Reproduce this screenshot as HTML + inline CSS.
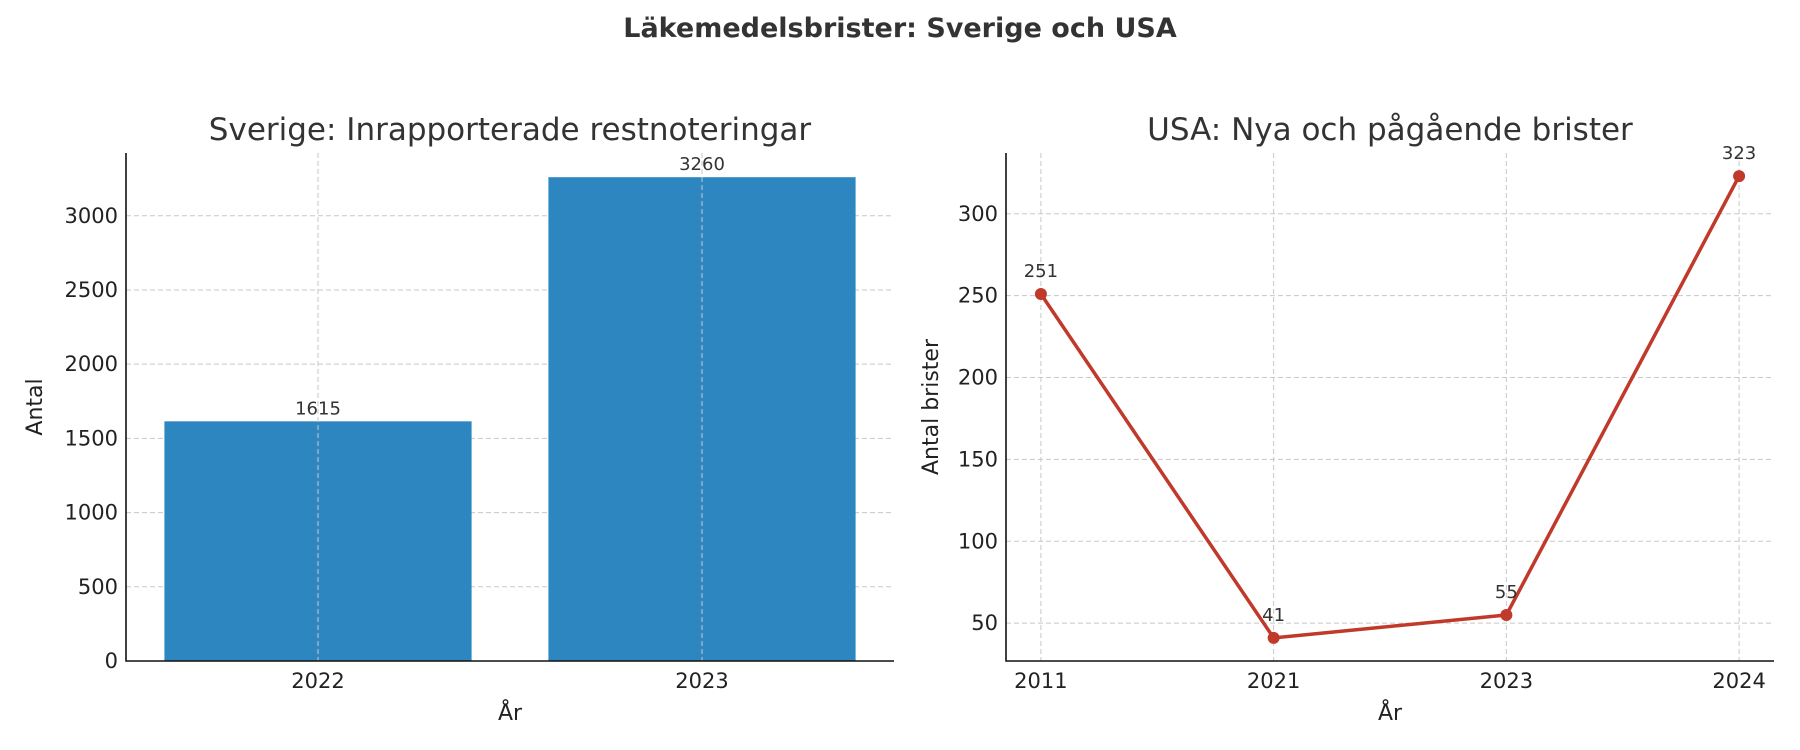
<!DOCTYPE html>
<html><head><meta charset="utf-8"><style>
body{margin:0;background:#fff;}
svg{display:block;font-family:"DejaVu Sans","Liberation Sans",sans-serif;}
</style></head><body>
<svg id="fig" width="1800" height="750" viewBox="0 0 1800 750">
<text x="900" y="37" text-anchor="middle" font-size="27" font-weight="bold" fill="#333">Läkemedelsbrister: Sverige och USA</text>
<g id="left"></g>
<g id="right"></g>
</svg>
<script>
const seCategories = ["2022", "2023"];
const seValues = [1615, 3260];
const seTicks = [0, 500, 1000, 1500, 2000, 2500, 3000];
const usCategories = ["2011", "2021", "2023", "2024"];
const usValues = [251, 41, 55, 323];
const usTicks = [50, 100, 150, 200, 250, 300];

const NS = "http://www.w3.org/2000/svg";
function mk(parent, tag, attrs, text){
  const e = document.createElementNS(NS, tag);
  for (const k in attrs) e.setAttribute(k, attrs[k]);
  if (text !== undefined) e.textContent = text;
  parent.appendChild(e);
  return e;
}

// Left chart
(function(){
  const g = document.getElementById('left');
  const L=126, R=894, T=153, B=661;
  const ymax = Math.max(...seValues)*1.05;
  const y = v => B - v/ymax*(B-T);
  const x = i => L + (i+0.5)/seCategories.length*(R-L);
  const unit = (R-L)/seCategories.length;
  seTicks.forEach(t=>{
    const gl = mk(g,'line',{x1:L,x2:R,y1:y(t),y2:y(t),stroke:'#c8c8c8','stroke-dasharray':'5,3','stroke-width':1});
    
    
    const tl = mk(g,'text',{x:L-8,y:y(t)+7,'text-anchor':'end','font-size':21,fill:'#222'},String(t));
    
    
  });
  seCategories.forEach((c,i)=>{
    const b = mk(g,'rect',{x:x(i)-0.4*unit,y:y(seValues[i]),width:0.8*unit,height:B-y(seValues[i]),fill:'#2e86c1'});
    
    
    const vl = mk(g,'text',{x:x(i),y:y(seValues[i])-7,'text-anchor':'middle','font-size':18,fill:'#333'},String(seValues[i]));
    
    
    const gl = mk(g,'line',{x1:x(i),x2:x(i),y1:T,y2:B,stroke:'#c8c8c8','stroke-dasharray':'5,3','stroke-width':1});
    
    
    const tl = mk(g,'text',{x:x(i),y:688,'text-anchor':'middle','font-size':21,fill:'#222'},c);
    
    
  });
  const ax = mk(g,'path',{d:`M${L} ${T} V${B} H${R}`,fill:'none',stroke:'#111','stroke-width':1.6});
  
  
  const tt = mk(g,'text',{x:(L+R)/2,y:140,'text-anchor':'middle','font-size':31,fill:'#333'},'Sverige: Inrapporterade restnoteringar');
  
  
  const xl = mk(g,'text',{x:(L+R)/2,y:720,'text-anchor':'middle','font-size':22,fill:'#222'},'År');
  
  
  const yl = mk(g,'text',{x:0,y:0,'text-anchor':'middle','font-size':22,fill:'#222',transform:`translate(42 ${(T+B)/2}) rotate(-90)`},'Antal');
  
  
})();

// Right chart
(function(){
  const g = document.getElementById('right');
  const L=1006, R=1774, T=153, B=661;
  const mn = Math.min(...usValues), mx = Math.max(...usValues);
  const pad = (mx-mn)*0.05;
  const ymin = mn-pad, ymax = mx+pad;
  const y = v => B - (v-ymin)/(ymax-ymin)*(B-T);
  const n = usCategories.length;
  const x = i => L + (i+0.15)/(n-1+0.3)*(R-L);
  usTicks.forEach(t=>{
    const gl = mk(g,'line',{x1:L,x2:R,y1:y(t),y2:y(t),stroke:'#c8c8c8','stroke-dasharray':'5,3','stroke-width':1});
    
    
    const tl = mk(g,'text',{x:L-8,y:y(t)+7,'text-anchor':'end','font-size':21,fill:'#222'},String(t));
    
    
  });
  usCategories.forEach((c,i)=>{
    const gl = mk(g,'line',{x1:x(i),x2:x(i),y1:T,y2:B,stroke:'#c8c8c8','stroke-dasharray':'5,3','stroke-width':1});
    
    
    const tl = mk(g,'text',{x:x(i),y:688,'text-anchor':'middle','font-size':21,fill:'#222'},c);
    
    
  });
  const pts = usValues.map((v,i)=>`${x(i)},${y(v)}`).join(' ');
  const line = mk(g,'polyline',{points:pts,fill:'none',stroke:'#c0392b','stroke-width':3.5,'stroke-linejoin':'round'});
  
  
  usValues.forEach((v,i)=>{
    const p = mk(g,'circle',{cx:x(i),cy:y(v),r:6,fill:'#c0392b'});
    
    
    const vl = mk(g,'text',{x:x(i),y:y(v)-17,'text-anchor':'middle','font-size':18,fill:'#333'},String(v));
    
    
  });
  const ax = mk(g,'path',{d:`M${L} ${T} V${B} H${R}`,fill:'none',stroke:'#111','stroke-width':1.6});
  
  
  const tt = mk(g,'text',{x:(L+R)/2,y:140,'text-anchor':'middle','font-size':31,fill:'#333'},'USA: Nya och pågående brister');
  
  
  const xl = mk(g,'text',{x:(L+R)/2,y:720,'text-anchor':'middle','font-size':22,fill:'#222'},'År');
  
  
  const yl = mk(g,'text',{x:0,y:0,'text-anchor':'middle','font-size':22,fill:'#222',transform:`translate(938 ${(T+B)/2}) rotate(-90)`},'Antal brister');
  
  
})();
</script>
</body></html>
